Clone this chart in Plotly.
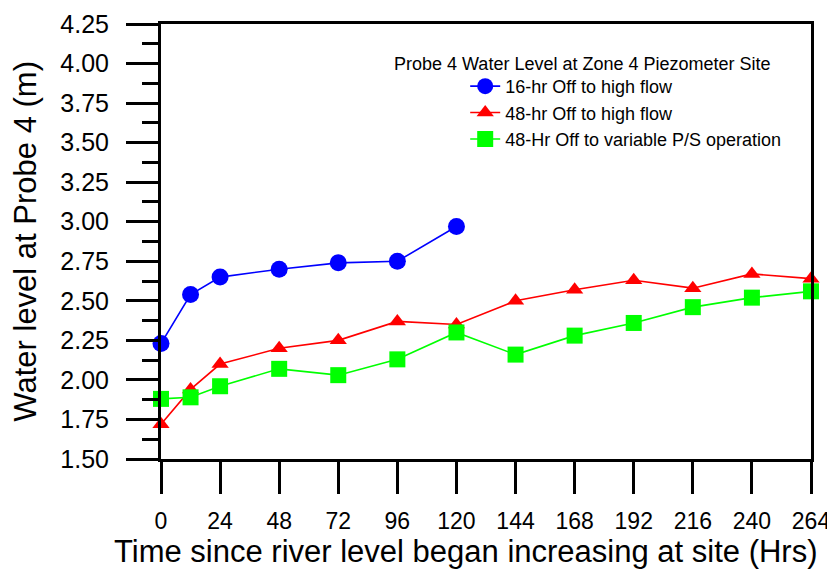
import plotly.graph_objects as go

# Data
hours_16 = [0, 12, 24, 48, 72, 96, 120]
level_16 = [2.23, 2.54, 2.65, 2.70, 2.74, 2.75, 2.97]

hours_48 = [0, 12, 24, 48, 72, 96, 120, 144, 168, 192, 216, 240, 264]
level_48 = [1.72, 1.94, 2.10, 2.20, 2.25, 2.37, 2.35, 2.50, 2.57, 2.63, 2.58, 2.67, 2.64]

hours_var = [0, 12, 24, 48, 72, 96, 120, 144, 168, 192, 216, 240, 264]
level_var = [1.88, 1.89, 1.96, 2.07, 2.03, 2.13, 2.30, 2.16, 2.28, 2.36, 2.46, 2.52, 2.56]

x_ticks = [0, 24, 48, 72, 96, 120, 144, 168, 192, 216, 240, 264]
y_ticks = [1.50, 1.75, 2.00, 2.25, 2.50, 2.75, 3.00, 3.25, 3.50, 3.75, 4.00, 4.25]

names = ["16-hr Off to high flow", "48-hr Off to high flow", "48-Hr Off to variable P/S operation"]
legend_title = "Probe 4 Water Level at Zone 4 Piezometer Site"
x_title = "Time since river level began increasing at site (Hrs)"
y_title = "Water level at Probe 4 (m)"

FONT = "Liberation Sans, Arial, sans-serif"

fig = go.Figure()
fig.add_trace(go.Scatter(x=hours_16, y=level_16, name=names[0], mode="lines+markers",
                         line=dict(color="#0000FF", width=1.6),
                         marker=dict(symbol="circle", size=17, color="#0000FF"),
                         cliponaxis=False, legendgroup="a"))
fig.add_trace(go.Scatter(x=hours_48, y=level_48, name=names[1], mode="lines+markers",
                         line=dict(color="#FF0000", width=1.6),
                         marker=dict(symbol="triangle-up", size=15, color="#FF0000"),
                         cliponaxis=False, legendgroup="b"))
fig.add_trace(go.Scatter(x=hours_var, y=level_var, name=names[2], mode="lines+markers",
                         line=dict(color="#00FF00", width=1.6),
                         marker=dict(symbol="square", size=16, color="#00FF00"),
                         cliponaxis=False, legendgroup="c"))

fig.update_layout(
    width=835, height=569,
    margin=dict(l=153, r=32, t=16, b=118, autoexpand=False),
    paper_bgcolor="white", plot_bgcolor="white",
    font=dict(family=FONT, color="black"),
    showlegend=True,
    legend=dict(x=0.468, y=0.899, xanchor="left", yanchor="top",
                font=dict(size=18, family=FONT), bgcolor="rgba(0,0,0,0)",
                traceorder="grouped", tracegroupgap=0),
    xaxis=dict(range=[0, 264], tickmode="array", tickvals=x_ticks,
               ticktext=[str(v) for v in x_ticks], automargin=False,
               showgrid=False, zeroline=False, showline=True, linecolor="black",
               linewidth=3, mirror=True, ticks="outside", ticklen=32, tickwidth=3,
               tickcolor="black", tickfont=dict(size=23, family=FONT),
               ticklabelstandoff=7),
    yaxis=dict(range=[1.5, 4.25], tickmode="array", tickvals=y_ticks,
               ticktext=[f"{v:.2f}" for v in y_ticks], automargin=False,
               showgrid=False, zeroline=False, showline=True, linecolor="black",
               linewidth=3, mirror=True, ticks="outside", ticklen=32, tickwidth=3,
               tickcolor="black", tickfont=dict(size=25, family=FONT),
               ticklabelstandoff=12,
               minor=dict(dtick=0.125, tick0=1.5, ticks="outside", ticklen=16,
                          tickwidth=3, tickcolor="black", showgrid=False)),
    annotations=[
        dict(text=legend_title, xref="paper", yref="paper", x=0.6485, y=0.908,
             xanchor="center", yanchor="middle", showarrow=False,
             font=dict(size=18, family=FONT)),
        dict(text=x_title, xref="paper", yref="paper", x=0.469, y=-0.2115,
             xanchor="center", yanchor="middle", showarrow=False,
             font=dict(size=31, family=FONT)),
        dict(text=y_title, xref="paper", yref="paper", x=-0.209, y=0.5,
             xanchor="center", yanchor="middle", showarrow=False, textangle=-90,
             font=dict(size=31, family=FONT)),
    ],
)

fig.write_html("out.html")
